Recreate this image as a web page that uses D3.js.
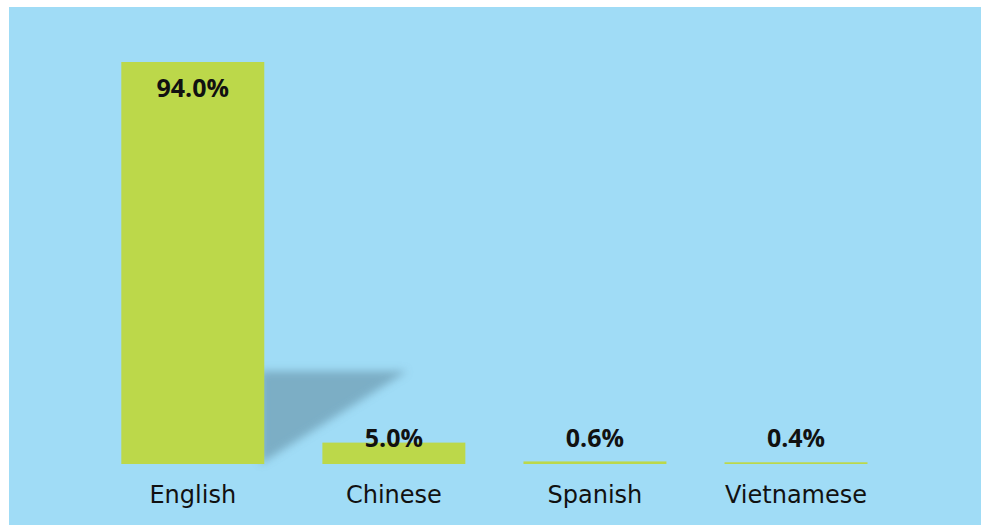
<!DOCTYPE html>
<html>
<head>
<meta charset="utf-8">
<script src="https://cdn.jsdelivr.net/npm/d3@7"></script>
<style>
  body { margin: 0; background: #ffffff; }
  .val { font-family: "Open Sans", Lato, sans-serif; }
  .cat { font-family: "DejaVu Sans", "Open Sans", sans-serif; }
</style>
</head>
<body>
<svg id="chart" width="983" height="525"></svg>
<script>
let languages = ['English', 'Chinese', 'Spanish', 'Vietnamese']
let shares = [94.0, 5.0, 0.6, 0.4]
let shareLabels = ['94.0%', '5.0%', '0.6%', '0.4%']

let width = 983
let height = 525
let bgColor = '#a0dcf6'
let barColor = '#bcd84a'

let svg = d3.select('#chart')

// panel background (white strip top / left / right)
svg.append('rect')
  .attr('x', 9).attr('y', 7)
  .attr('width', 972).attr('height', height - 7)
  .attr('fill', bgColor)

let data = languages.map((l, i) => ({ lang: l, value: shares[i], label: shareLabels[i] }))

let x = d3.scaleBand()
  .domain(languages)
  .range([121.3, 867.5])
  .paddingInner(0.289)
  .paddingOuter(0)

let baseY = 464
let y = d3.scaleLinear()
  .domain([0, 94])
  .range([baseY, 62])

// blurred shadow behind the tallest bar
let defs = svg.append('defs')
defs.append('filter').attr('id', 'blur')
  .attr('x', '-20%').attr('y', '-20%').attr('width', '140%').attr('height', '140%')
  .append('feGaussianBlur').attr('stdDeviation', 4)

let first = data[0]
let sx = x(first.lang) + x.bandwidth()
let shadowTop = 371
svg.append('path')
  .attr('d', `M${sx - 4},${shadowTop} L${sx + x.bandwidth()},${shadowTop} L${sx - 4},${baseY}  Z`)
  .attr('fill', '#6f9fb5')
  .attr('opacity', 0.75)
  .attr('filter', 'url(#blur)')

svg.selectAll('.bar')
  .data(data)
  .enter()
  .append('rect')
  .attr('class', 'bar')
  .attr('x', d => x(d.lang))
  .attr('y', d => y(d.value))
  .attr('width', x.bandwidth())
  .attr('height', d => baseY - y(d.value))
  .attr('fill', barColor)

// value labels
svg.selectAll('.val')
  .data(data)
  .enter()
  .append('text')
  .attr('class', 'val')
  .attr('x', d => x(d.lang) + x.bandwidth() / 2)
  .attr('y', d => Math.min(y(d.value) + 35, baseY - 17))
  .attr('text-anchor', 'middle')
  .attr('font-size', 25)
  .attr('font-weight', 'bold')
  .attr('fill', '#111')
  .text(d => d.label)

// category labels
svg.selectAll('.cat')
  .data(data)
  .enter()
  .append('text')
  .attr('class', 'cat')
  .attr('x', d => x(d.lang) + x.bandwidth() / 2)
  .attr('y', 503)
  .attr('text-anchor', 'middle')
  .attr('font-size', 24)
  .attr('fill', '#111')
  .text(d => d.lang)
</script>
</body>
</html>
